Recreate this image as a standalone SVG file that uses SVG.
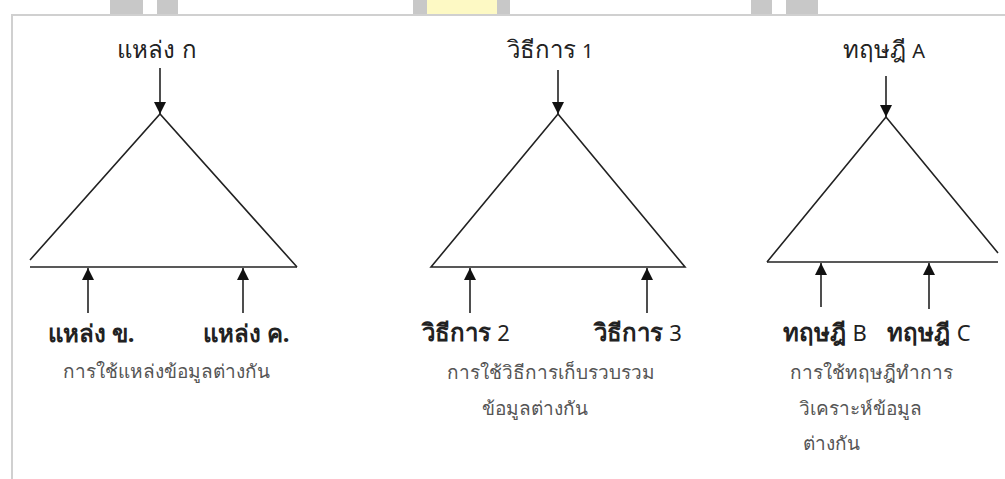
<svg xmlns="http://www.w3.org/2000/svg" width="1005" height="479" viewBox="0 0 1005 479">
<defs>
<style>
.frame{fill:none;stroke:#d0d0d0;stroke-width:2}
.tri{fill:none;stroke:#222;stroke-width:1.6}
.arr{fill:none;stroke:#222;stroke-width:1.6}
.top{font-family:"Noto Sans","Liberation Sans",sans-serif;font-size:24px;fill:#222;text-anchor:middle}
.lab{font-family:"Noto Sans","Liberation Sans",sans-serif;font-size:24px;font-weight:bold;fill:#222;text-anchor:middle}
.lat{font-size:20px;font-weight:normal}
.latb{font-size:22px;font-weight:normal}
.desc{font-family:"Noto Sans","Liberation Sans",sans-serif;font-size:19px;fill:#555;text-anchor:middle}
</style>
<marker id="ah" viewBox="0 0 12 12" refX="12" refY="6" markerWidth="12" markerHeight="12" markerUnits="userSpaceOnUse" orient="auto">
<path d="M0,0 L12,6 L0,12 Z" fill="#111"/>
</marker>
</defs>
<rect width="1005" height="479" fill="#fff"/>
<g id="header">
<rect x="110" y="0" width="33" height="14" fill="#c8c8c8"/>
<rect x="157" y="0" width="21" height="14" fill="#c8c8c8"/>
<rect x="413" y="0" width="14" height="14" fill="#c8c8c8"/>
<rect x="427" y="0" width="70" height="14" fill="#fdf9c4"/>
<rect x="497" y="0" width="13" height="14" fill="#c8c8c8"/>
<rect x="751" y="0" width="21" height="14" fill="#c8c8c8"/>
<rect x="786" y="0" width="32" height="14" fill="#c8c8c8"/>
<path class="frame" d="M1005,15 H12 V479"/>
</g>
<g id="tri1">
<path class="tri" d="M30,260 L160,114 L297,267"/>
<path class="tri" d="M30,267 H297"/>
<text class="top" x="157" y="58">แหล่ง ก</text>
<text class="lab" x="91" y="342">แหล่ง ข.</text>
<text class="lab" x="246" y="342">แหล่ง ค.</text>
<text class="desc" x="166" y="378">การใช้แหล่งข้อมูลต่างกัน</text>
</g>
<g id="tri2">
<path class="tri" d="M431,267 L558,114 L685,267 Z"/>
<text class="top" x="550" y="58">วิธีการ <tspan class="lat">1</tspan></text>
<text class="lab" x="466" y="341">วิธีการ <tspan class="latb">2</tspan></text>
<text class="lab" x="638" y="341">วิธีการ <tspan class="latb">3</tspan></text>
<text class="desc" x="551" y="379">การใช้วิธีการเก็บรวบรวม</text>
<text class="desc" x="535" y="415">ข้อมูลต่างกัน</text>
</g>
<g id="tri3">
<path class="tri" d="M767,262 L886,117 L998,253"/>
<path class="tri" d="M767,262 H998"/>
<text class="top" x="884" y="58">ทฤษฎี <tspan class="lat">A</tspan></text>
<text class="lab" x="825" y="341">ทฤษฎี <tspan class="latb">B</tspan></text>
<text class="lab" x="929" y="341">ทฤษฎี <tspan class="latb">C</tspan></text>
<text class="desc" x="871" y="379">การใช้ทฤษฎีทำการ</text>
<text class="desc" x="860" y="415">วิเคราะห์ข้อมูล</text>
<text class="desc" x="831" y="450">ต่างกัน</text>
</g>
<g id="connectors">
<line class="arr" x1="160" y1="68" x2="160" y2="114" marker-end="url(#ah)"/>
<line class="arr" x1="88" y1="313" x2="88" y2="268" marker-end="url(#ah)"/>
<line class="arr" x1="243" y1="313" x2="243" y2="268" marker-end="url(#ah)"/>
<line class="arr" x1="558" y1="70" x2="558" y2="114" marker-end="url(#ah)"/>
<line class="arr" x1="470" y1="313" x2="470" y2="268" marker-end="url(#ah)"/>
<line class="arr" x1="647" y1="313" x2="647" y2="268" marker-end="url(#ah)"/>
<line class="arr" x1="886" y1="76" x2="886" y2="117" marker-end="url(#ah)"/>
<line class="arr" x1="821" y1="307" x2="821" y2="263" marker-end="url(#ah)"/>
<line class="arr" x1="929" y1="309" x2="929" y2="263" marker-end="url(#ah)"/>
</g>
</svg>
